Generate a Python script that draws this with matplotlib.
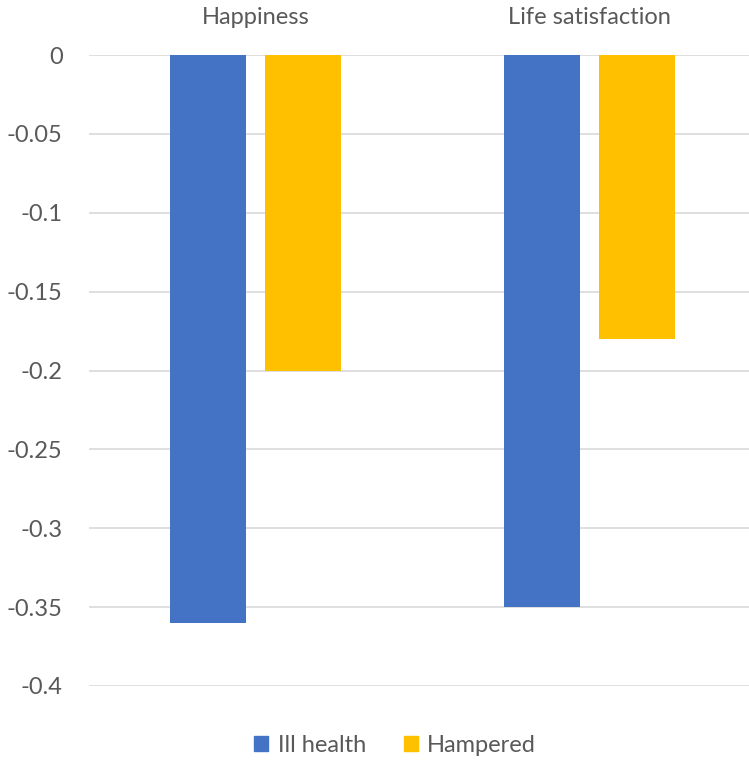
import numpy as np
import matplotlib.pyplot as plt
from matplotlib.patches import Patch

plt.rcParams['font.family'] = ['Lato', 'DejaVu Sans']

categories = ['Happiness', 'Life satisfaction']
ill_health = [-0.36, -0.35]
hampered = [-0.20, -0.18]
y_ticks = [0, -0.05, -0.1, -0.15, -0.2, -0.25, -0.3, -0.35, -0.4]
y_labels = ['0', '-0.05', '-0.1', '-0.15', '-0.2', '-0.25', '-0.3', '-0.35', '-0.4']

blue = '#4472C4'
gold = '#FFC000'
text_col = '#595959'
fs = 17

fig = plt.figure(figsize=(7.49, 7.61), dpi=100)
W, H = 749, 761
ax = fig.add_axes([89 / W, 75 / H, (W - 89) / W, 631 / H])

x = np.arange(len(categories))
bw = 0.228
off = 0.142
ax.bar(x - off, ill_health, bw, color=blue, zorder=3)
ax.bar(x + off, hampered, bw, color=gold, zorder=3)

ax.set_xlim(-0.5, 1.5 - 7 / 333.7)
ax.set_ylim(-0.4, 0)
ax.set_yticks(y_ticks)
ax.set_yticklabels(y_labels)
ax.tick_params(axis='y', length=0, pad=19, labelsize=fs, labelcolor=text_col)
ax.set_xticks([])
ax.yaxis.grid(True, color='#d9d9d9', linewidth=1.2, zorder=0)
for s in ax.spines.values():
    s.set_visible(False)

for xi, name in zip(x, categories):
    ax.text(xi, 1.0 + 37 / 631, name, transform=ax.get_xaxis_transform(),
            ha='center', va='center', fontsize=fs, color=text_col)

handles = [Patch(color=blue, label='Ill health'), Patch(color=gold, label='Hampered')]
fig.legend(handles=handles, loc='center', bbox_to_anchor=(395 / W, 1 - 745 / H),
           ncol=2, frameon=False, fontsize=fs, labelcolor=text_col,
           handlelength=0.6, handleheight=0.6, handletextpad=0.4, columnspacing=1.6)

fig.savefig('out.png', dpi=100)
